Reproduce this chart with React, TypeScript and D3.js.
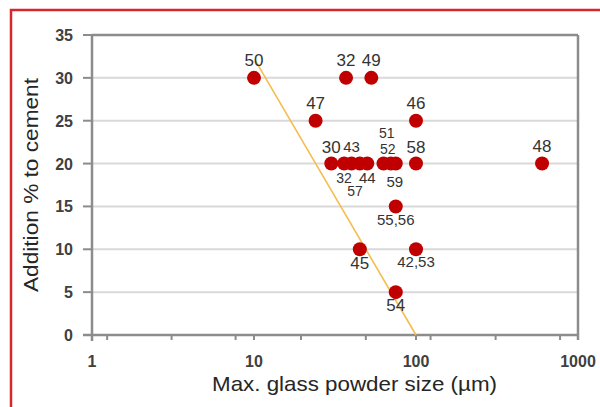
import * as d3 from 'd3'

// point data: max glass powder size (um) vs addition % to cement
const sizes = [10, 37, 53, 24, 100, 30, 36, 40, 45, 50, 63, 70, 75, 100, 600, 75, 45, 100, 75]
const additions = [30, 30, 30, 25, 25, 20, 20, 20, 20, 20, 20, 20, 20, 20, 20, 15, 10, 10, 5]

// reference numbers written next to the points
const labelTexts = ['50', '32', '49', '47', '46', '30', '43', '51', '52', '58', '48', '32', '44', '57', '59', '55,56', '45', '42,53', '54']
const labelSizes = [10, 37, 53, 24, 100, 30, 40, 66, 67, 100, 600, 36, 50, 42, 74, 75, 45, 100, 75]
const labelAdditions = [30, 30, 30, 25, 25, 20, 20, 20, 20, 20, 20, 20, 20, 20, 20, 15, 10, 10, 5]

// trend line end points
const lineSizes = [10.2, 100]
const lineAdditions = [32, 0]

const yTicks = [0, 5, 10, 15, 20, 25, 30, 35]
const xTickLabels = [1, 10, 100, 1000]
const xTickMarks = [1.24, 3.1, 7.7, 10, 19.5, 49, 100, 123, 310, 775, 1000]

// label placement (baseline offset from point centre, px) and font size
const labelDy = [-12, -12, -12, -12, -12, -11, -12, -26, -10, -11, -12, 19, 19, 32, 23, 19, 20, 18, 19]
const labelFont = [17, 17, 17, 17, 17, 17, 15, 14, 14, 17, 17, 14, 15, 14, 15, 15, 17, 15, 17]

const W = 600
const H = 407
const plot = { left: 92, right: 578, top: 35, bottom: 335 }
const font = '"Liberation Sans", Arial, sans-serif'

export default function App() {
    const x = d3.scaleLog().domain([1, 1000]).range([plot.left, plot.right])
    const y = d3.scaleLinear().domain([0, 35]).range([plot.bottom, plot.top])

    const line = d3
        .line<number>()
        .x(i => x(lineSizes[i]))
        .y(i => y(lineAdditions[i]))

    return (
        <svg
            width={W}
            height={H}
            style={{ position: 'absolute', left: 0, top: 0, background: '#fff' }}
        >
            {/* red outer frame */}
            <rect x={11} y={10} width={620} height={420} fill="none" stroke="#d9262c" strokeWidth={2.5} />

            {/* gridlines */}
            {yTicks.filter(t => t > 0 && t < 35).map(t => (
                <line key={'g' + t} x1={plot.left} x2={plot.right} y1={y(t)} y2={y(t)} stroke="#d9d9d9" strokeWidth={2} />
            ))}

            {/* plot border */}
            <line x1={plot.left} x2={plot.right} y1={plot.top} y2={plot.top} stroke="#8c8c8c" strokeWidth={2.5} />
            <line x1={plot.right} x2={plot.right} y1={plot.top} y2={plot.bottom + 5} stroke="#8c8c8c" strokeWidth={2.5} />
            <line x1={plot.left} x2={plot.left} y1={plot.top} y2={plot.bottom + 6} stroke="#8c8c8c" strokeWidth={2.5} />
            <line x1={plot.left - 9} x2={plot.right} y1={plot.bottom} y2={plot.bottom} stroke="#8c8c8c" strokeWidth={2.5} />

            {/* y ticks */}
            {yTicks.map(t => (
                <g key={'y' + t}>
                    <line x1={plot.left - 9} x2={plot.left} y1={y(t)} y2={y(t)} stroke="#8c8c8c" strokeWidth={2} />
                    <text x={73} y={y(t) + 6} textAnchor="end" fontSize={16} fontFamily={font} fill="#404040" fontWeight="bold">
                        {t}
                    </text>
                </g>
            ))}

            {/* x ticks */}
            {xTickMarks.map(t => (
                <line key={'xm' + t} x1={x(t)} x2={x(t)} y1={plot.bottom} y2={plot.bottom + 5} stroke="#8c8c8c" strokeWidth={2} />
            ))}
            {xTickLabels.map(t => (
                <text key={'xl' + t} x={x(t)} y={367} textAnchor="middle" fontSize={16} fontFamily={font} fill="#404040" fontWeight="bold">
                    {t}
                </text>
            ))}

            {/* axis titles */}
            <text x={212} y={391} fontSize={21} fontFamily={font} fill="#262626" textLength={285} lengthAdjust="spacingAndGlyphs">
                Max. glass powder size (µm)
            </text>
            <text
                transform="translate(38,292) rotate(-90)"
                fontSize={20}
                fontFamily={font}
                fill="#262626"
                textLength={214}
                lengthAdjust="spacingAndGlyphs"
            >
                Addition % to cement
            </text>

            {/* trend line */}
            <path d={line([0, 1]) ?? ''} fill="none" stroke="#f5bd4f" strokeWidth={1.6} />

            {/* points */}
            {sizes.map((s, i) => (
                <circle key={'p' + i} cx={x(s)} cy={y(additions[i])} r={7} fill="#c00000" />
            ))}

            {/* point labels */}
            {labelTexts.map((t, i) => (
                <text
                    key={'l' + i}
                    x={x(labelSizes[i])}
                    y={y(labelAdditions[i]) + labelDy[i]}
                    textAnchor="middle"
                    fontSize={labelFont[i]}
                    fontFamily={font}
                    fill="#333"
                >
                    {t}
                </text>
            ))}
        </svg>
    )
}
